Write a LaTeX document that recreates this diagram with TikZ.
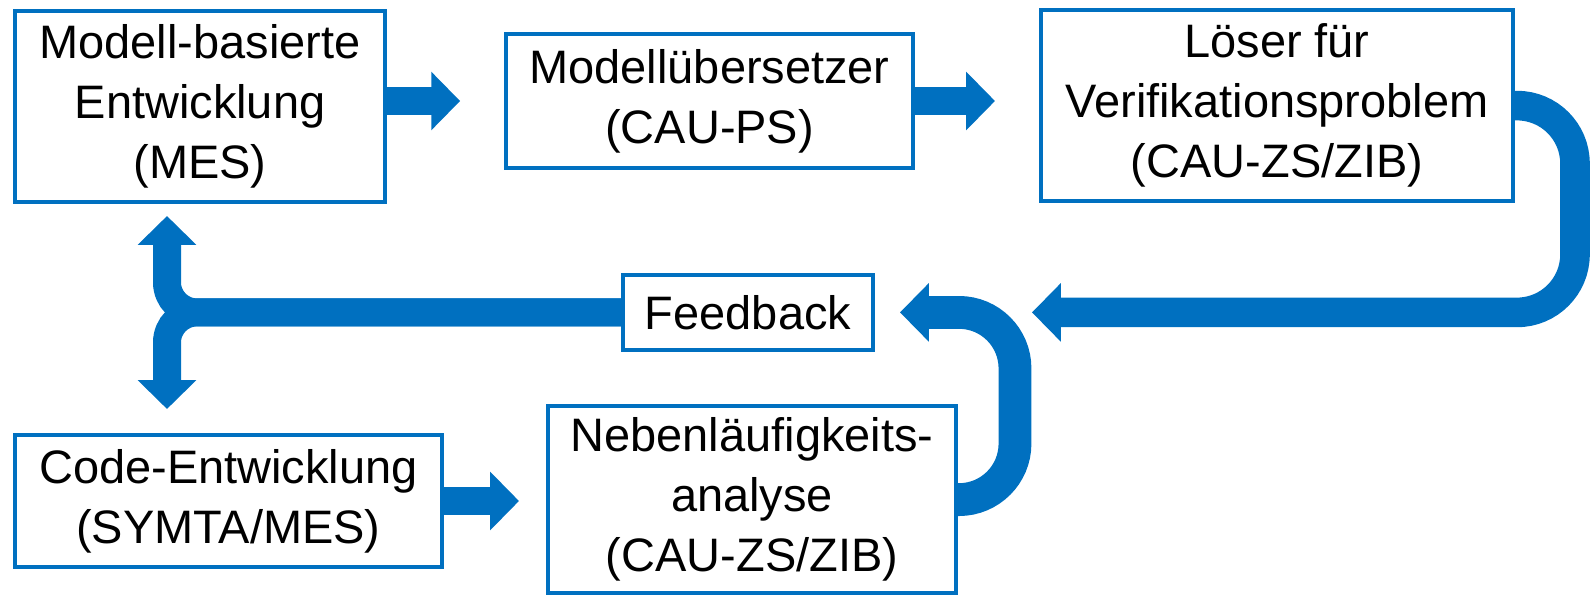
\documentclass[tikz,border=0pt]{standalone}
\usepackage{fontspec}
\setmainfont{Liberation Sans}
\usepackage{xcolor}
\usepackage{tikz}
\usetikzlibrary{arrows.meta, positioning, calc}
\definecolor{ppblue}{RGB}{0,112,192}

\begin{document}
\begin{tikzpicture}[
    block/.style={
        rectangle, draw=ppblue, line width=0.1cm, fill=white,
        inner sep=0pt, align=center,
        font=\fontsize{33.4}{42.7}\selectfont,
    },
    fatarrow/.style={ppblue, line width=0.74cm, -{Triangle[width=1.42cm, length=0.72cm]}},
]
\useasboundingbox (0,0) rectangle (39.825,-14.95);

% TOP ROW
\node[block, minimum width=9.25cm, minimum height=4.775cm] (modell) at (5.0, -2.66) {Modell-basierte\\Entwicklung\\(MES)};
\node[block, minimum width=10.175cm, minimum height=3.35cm] (uebersetzer) at (17.74, -2.525) {Modellübersetzer\\(CAU-PS)};
\node[block, minimum width=11.8cm, minimum height=4.775cm] (loeser) at (31.925, -2.64) {Löser für\\Verifikationsproblem\\(CAU-ZS/ZIB)};

% MIDDLE
\node[block, minimum width=6.25cm, minimum height=1.875cm] (feedback) at (18.7, -7.81) {Feedback};

% BOTTOM ROW
\node[block, minimum width=10.675cm, minimum height=3.3cm] (code) at (5.71, -12.525) {Code-Entwicklung\\(SYMTA/MES)};
\node[block, minimum width=10.2cm, minimum height=4.675cm] (neben) at (18.8, -12.49) {Nebenläufigkeits-\\analyse\\(CAU-ZS/ZIB)};

% straight arrows
\draw[fatarrow, line width=0.72cm, shorten >=1.1cm] (modell.east |- uebersetzer.west) -- (uebersetzer.west);
\draw[fatarrow, line width=0.72cm, shorten >=1.1cm] (uebersetzer.east) -- (loeser.west |- uebersetzer.east);
\draw[fatarrow, line width=0.72cm, shorten >=0.675cm] (code.east) -- (neben.west |- code.east);

% loops back to feedback
\draw[fatarrow, rounded corners=1.45cm, shorten >=3.925cm] (loeser.east) -- ++(1.5,0) |- (feedback.east);
\draw[fatarrow, line width=0.82cm, rounded corners=1.4cm, shorten >=0.625cm] (neben.east) -- ++(1.425,0) |- (feedback.east);

% feedback split
\coordinate (uptip) at (4.175, -5.4);
\coordinate (downtip) at (4.175, -10.225);
\draw[fatarrow, line width=0.7cm, rounded corners=0.75cm] (feedback.west) -| (uptip);
\draw[fatarrow, line width=0.7cm, rounded corners=0.75cm] (feedback.west) -| (downtip);

\end{tikzpicture}
\end{document}
